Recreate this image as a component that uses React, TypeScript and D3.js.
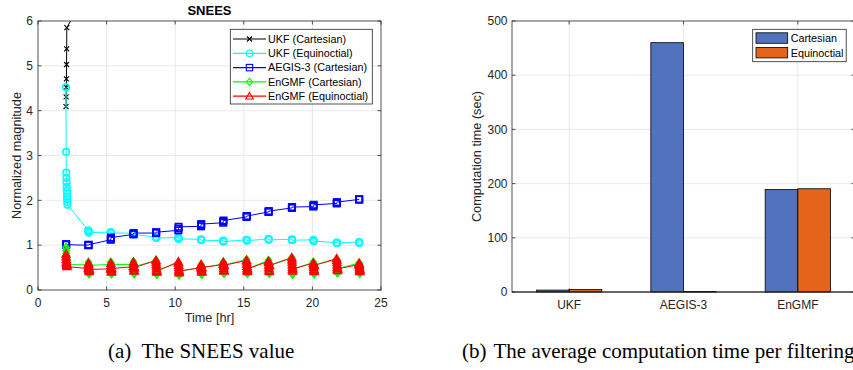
import React from "react";
import * as d3 from "d3";

// ---------- Data: SNEES (left) ----------
const PASS_TIMES = [2.04, 3.67, 5.3, 6.95, 8.6, 10.23, 11.88, 13.5, 15.2, 16.8, 18.5, 20.07, 21.77, 23.4];
const PASS_STEP = 0.01; // hr between samples inside one pass

const UKF_CART = [
  [4.09, 4.31, 4.52, 4.71, 5.03, 5.38, 5.85],
  [6.7, 7.4, 8.1],
  [10.5, 12.0],
];
const UKF_EQUI = [
  [4.52, 3.08, 2.62, 2.5, 2.4, 2.3, 2.22, 2.15, 2.08, 2.02, 1.96, 1.9],
  [1.33, 1.31, 1.29, 1.28],
  [1.29, 1.28, 1.27],
  [1.27, 1.25, 1.24],
  [1.18, 1.17, 1.16],
  [1.17, 1.15, 1.14],
  [1.13, 1.12, 1.11],
  [1.1, 1.09, 1.08],
  [1.12, 1.11, 1.1],
  [1.14, 1.13, 1.12],
  [1.13, 1.12, 1.11],
  [1.12, 1.1, 1.09],
  [1.06, 1.05, 1.05],
  [1.07, 1.06, 1.05],
];
const AEGIS_CART = [
  [1.02, 1.02, 1.01],
  [1.0, 1.0, 1.01],
  [1.12, 1.14, 1.17],
  [1.24, 1.25, 1.27],
  [1.27, 1.28, 1.29],
  [1.33, 1.37, 1.41],
  [1.42, 1.45, 1.47],
  [1.5, 1.53, 1.55],
  [1.63, 1.64, 1.65],
  [1.74, 1.75, 1.76],
  [1.83, 1.84, 1.85],
  [1.86, 1.88, 1.9],
  [1.93, 1.95, 1.96],
  [2.02, 2.02, 2.02],
];
const ENGMF_CART = [
  [0.95, 0.88, 0.82, 0.76, 0.7, 0.65, 0.6, 0.57],
  [0.56, 0.62, 0.55, 0.49, 0.44, 0.39, 0.36, 0.55],
  [0.57, 0.62, 0.55, 0.49, 0.44, 0.39, 0.36, 0.57],
  [0.57, 0.63, 0.56, 0.5, 0.44, 0.39, 0.36, 0.52],
  [0.66, 0.62, 0.56, 0.5, 0.44, 0.39, 0.35, 0.44],
  [0.6, 0.57, 0.51, 0.45, 0.4, 0.36, 0.33, 0.42],
  [0.5, 0.56, 0.51, 0.46, 0.41, 0.37, 0.35, 0.5],
  [0.58, 0.62, 0.56, 0.5, 0.45, 0.4, 0.37, 0.56],
  [0.68, 0.64, 0.58, 0.52, 0.46, 0.41, 0.37, 0.48],
  [0.66, 0.62, 0.56, 0.5, 0.45, 0.4, 0.37, 0.54],
  [0.72, 0.67, 0.6, 0.53, 0.46, 0.4, 0.35, 0.46],
  [0.62, 0.6, 0.54, 0.48, 0.43, 0.39, 0.36, 0.56],
  [0.68, 0.65, 0.59, 0.52, 0.46, 0.41, 0.38, 0.48],
  [0.6, 0.58, 0.53, 0.48, 0.43, 0.39, 0.37, 0.44],
];
const ENGMF_EQUI = [
  [0.8, 0.74, 0.68, 0.63, 0.6, 0.57, 0.55, 0.52],
  [0.48, 0.6, 0.56, 0.52, 0.48, 0.44, 0.41, 0.46],
  [0.47, 0.6, 0.55, 0.5, 0.46, 0.42, 0.4, 0.48],
  [0.52, 0.62, 0.57, 0.52, 0.48, 0.44, 0.42, 0.5],
  [0.66, 0.62, 0.57, 0.52, 0.47, 0.43, 0.4, 0.42],
  [0.63, 0.6, 0.55, 0.5, 0.45, 0.41, 0.38, 0.42],
  [0.5, 0.57, 0.53, 0.49, 0.45, 0.42, 0.4, 0.5],
  [0.57, 0.62, 0.57, 0.52, 0.48, 0.44, 0.42, 0.55],
  [0.66, 0.63, 0.58, 0.53, 0.48, 0.44, 0.41, 0.47],
  [0.64, 0.61, 0.56, 0.51, 0.47, 0.43, 0.41, 0.55],
  [0.72, 0.67, 0.62, 0.56, 0.51, 0.46, 0.42, 0.47],
  [0.6, 0.58, 0.54, 0.5, 0.46, 0.43, 0.41, 0.55],
  [0.7, 0.66, 0.61, 0.56, 0.51, 0.47, 0.43, 0.47],
  [0.57, 0.6, 0.55, 0.51, 0.47, 0.43, 0.41, 0.45],
];

const SERIES = [
  { name: "UKF (Cartesian)", data: UKF_CART, color: "#000000", marker: "x" },
  { name: "UKF (Equinoctial)", data: UKF_EQUI, color: "#00FFFF", marker: "o" },
  { name: "AEGIS-3 (Cartesian)", data: AEGIS_CART, color: "#0000FF", marker: "s" },
  { name: "EnGMF (Cartesian)", data: ENGMF_CART, color: "#00FF00", marker: "d" },
  { name: "EnGMF (Equinoctial)", data: ENGMF_EQUI, color: "#FF0000", marker: "t" },
];

const X_TICKS_L = [0, 5, 10, 15, 20, 25];
const Y_TICKS_L = [0, 1, 2, 3, 4, 5, 6];

// ---------- Data: computation time (right) ----------
const FILTERS = ["UKF", "AEGIS-3", "EnGMF"];
const TIME_CART = [3.5, 460, 189];
const TIME_EQUI = [4.5, 1, 190.5];
const BAR_SERIES = ["Cartesian", "Equinoctial"];
const BAR_COLORS = ["#5172BC", "#E3641A"];
const Y_TICKS_R = [0, 100, 200, 300, 400, 500];

const AX = "#262626";
const GRID = "#e3e3e3";
const SANS = "'Liberation Sans', Arial, Helvetica, sans-serif";
const SERIF = "'Liberation Serif', 'Times New Roman', serif";

function Marker({ type, x, y, color, sw = 1.6 }: { type: string; x: number; y: number; color: string; sw?: number }) {
  if (type === "x") {
    const h = 2.5;
    return (
      <path d={`M${x - h},${y - h}L${x + h},${y + h}M${x - h},${y + h}L${x + h},${y - h}`} stroke={color} strokeWidth={1.1} fill="none" />
    );
  }
  if (type === "o") return <circle cx={x} cy={y} r={3.3} stroke={color} strokeWidth={sw} fill="none" />;
  if (type === "s") return <rect x={x - 3.2} y={y - 3.2} width={6.4} height={6.4} stroke={color} strokeWidth={sw} fill="none" />;
  if (type === "d") {
    const h = 3.8;
    return <path d={`M${x},${y - h}L${x + h * 0.8},${y}L${x},${y + h}L${x - h * 0.8},${y}Z`} stroke={color} strokeWidth={sw} fill="none" />;
  }
  const h = 3.8;
  return <path d={`M${x},${y - h}L${x + h},${y + h * 0.75}L${x - h},${y + h * 0.75}Z`} stroke={color} strokeWidth={sw} fill="none" />;
}

function LeftChart() {
  const L = 38, R = 381, T = 21, B = 290;
  const x = d3.scaleLinear().domain([0, 25]).range([L, R]);
  const y = d3.scaleLinear().domain([0, 6]).range([B, T]);
  const line = d3.line<{ t: number; v: number }>().x((d) => x(d.t)).y((d) => y(d.v));
  const pts = (data: number[][]) =>
    data.flatMap((pass, p) => pass.map((v, i) => ({ t: PASS_TIMES[p] + i * PASS_STEP, v })));
  const legY = [39, 53.3, 67.6, 81.9, 96.2];
  return (
    <g>
      <defs>
        <clipPath id="clipL">
          <rect x={L} y={T} width={R - L} height={B - T} />
        </clipPath>
      </defs>
      <rect x={L} y={T} width={R - L} height={B - T} fill="#fff" />
      {X_TICKS_L.slice(1, -1).map((t) => (
        <line key={"gx" + t} x1={x(t)} x2={x(t)} y1={T} y2={B} stroke={GRID} strokeWidth={0.8} />
      ))}
      {Y_TICKS_L.slice(1, -1).map((t) => (
        <line key={"gy" + t} x1={L} x2={R} y1={y(t)} y2={y(t)} stroke={GRID} strokeWidth={0.8} />
      ))}
      <g clipPath="url(#clipL)">
        {SERIES.map((s) => {
          const p = pts(s.data);
          return (
            <g key={s.name}>
              <path d={line(p) || ""} stroke={s.color} strokeWidth={1} fill="none" />
              {p.map((d, i) => (
                <Marker key={i} type={s.marker} x={x(d.t)} y={y(d.v)} color={s.color} />
              ))}
            </g>
          );
        })}
      </g>
      <rect x={L} y={T} width={R - L} height={B - T} fill="none" stroke={AX} strokeWidth={0.8} />
      {X_TICKS_L.map((t) => (
        <g key={"tx" + t}>
          <line x1={x(t)} x2={x(t)} y1={B} y2={B - 3.5} stroke={AX} strokeWidth={0.8} />
          <line x1={x(t)} x2={x(t)} y1={T} y2={T + 3.5} stroke={AX} strokeWidth={0.8} />
          <text x={x(t)} y={307} textAnchor="middle" fontSize={12} fill={AX} fontFamily={SANS}>
            {t}
          </text>
        </g>
      ))}
      {Y_TICKS_L.map((t) => (
        <g key={"ty" + t}>
          <line x1={L} x2={L + 3.5} y1={y(t)} y2={y(t)} stroke={AX} strokeWidth={0.8} />
          <line x1={R} x2={R - 3.5} y1={y(t)} y2={y(t)} stroke={AX} strokeWidth={0.8} />
          <text x={33} y={y(t) + 4.2} textAnchor="end" fontSize={12} fill={AX} fontFamily={SANS}>
            {t}
          </text>
        </g>
      ))}
      <text x={(L + R) / 2} y={15} textAnchor="middle" fontSize={13} fontWeight="bold" fill="#000" fontFamily={SANS}>
        SNEES
      </text>
      <text x={(L + R) / 2} y={322} textAnchor="middle" fontSize={12.7} fill={AX} fontFamily={SANS}>
        Time [hr]
      </text>
      <text transform={`translate(21,${(T + B) / 2}) rotate(-90)`} textAnchor="middle" fontSize={12.7} fill={AX} fontFamily={SANS}>
        Normalized magnitude
      </text>
      <rect x={230.3} y={29.3} width={142} height={74.7} fill="#fff" stroke={AX} strokeWidth={0.8} />
      {SERIES.map((s, i) => (
        <g key={"lg" + i}>
          <line x1={233} x2={266} y1={legY[i]} y2={legY[i]} stroke={s.color} strokeWidth={1.2} />
          <Marker type={s.marker} x={249.5} y={legY[i]} color={s.color} sw={1.1} />
          <text x={268} y={legY[i] + 3.8} fontSize={10.8} fill="#000" fontFamily={SANS}>
            {s.name}
          </text>
        </g>
      ))}
    </g>
  );
}

function RightChart() {
  const L = 512, R = 855, T = 21, B = 292;
  const x = d3.scaleLinear().domain([0.5, 3.5]).range([L, R]);
  const y = d3.scaleLinear().domain([0, 500]).range([B, T]);
  const bw = 2 / 3.5 / 2; // MATLAB grouped bar width per series
  const vals = [TIME_CART, TIME_EQUI];
  return (
    <g>
      <rect x={L} y={T} width={R - L} height={B - T} fill="#fff" />
      {FILTERS.map((f, i) => (
        <line key={"gx" + f} x1={x(i + 1)} x2={x(i + 1)} y1={T} y2={B} stroke={GRID} strokeWidth={0.8} />
      ))}
      {Y_TICKS_R.slice(1, -1).map((t) => (
        <line key={"gy" + t} x1={L} x2={R} y1={y(t)} y2={y(t)} stroke={GRID} strokeWidth={0.8} />
      ))}
      {vals.map((arr, s) =>
        arr.map((v, i) => {
          const x0 = x(i + 1 + (s - 1) * bw);
          const x1 = x(i + 1 + s * bw);
          return (
            <rect
              key={s + "-" + i}
              x={x0}
              y={y(v)}
              width={x1 - x0}
              height={y(0) - y(v)}
              fill={BAR_COLORS[s]}
              stroke="#000"
              strokeWidth={0.8}
            />
          );
        })
      )}
      <rect x={L} y={T} width={R - L} height={B - T} fill="none" stroke={AX} strokeWidth={0.8} />
      <line x1={L} x2={R} y1={B} y2={B} stroke={AX} strokeWidth={1.2} />
      {FILTERS.map((f, i) => (
        <g key={"tx" + f}>
          <line x1={x(i + 1)} x2={x(i + 1)} y1={B} y2={B - 3.5} stroke={AX} strokeWidth={0.8} />
          <line x1={x(i + 1)} x2={x(i + 1)} y1={T} y2={T + 3.5} stroke={AX} strokeWidth={0.8} />
          <text x={x(i + 1)} y={309} textAnchor="middle" fontSize={12} fill={AX} fontFamily={SANS}>
            {f}
          </text>
        </g>
      ))}
      {Y_TICKS_R.map((t) => (
        <g key={"ty" + t}>
          <line x1={L} x2={L + 3.5} y1={y(t)} y2={y(t)} stroke={AX} strokeWidth={0.8} />
          <line x1={R} x2={R - 3.5} y1={y(t)} y2={y(t)} stroke={AX} strokeWidth={0.8} />
          <text x={507.5} y={y(t) + 4.2} textAnchor="end" fontSize={12} fill={AX} fontFamily={SANS}>
            {t}
          </text>
        </g>
      ))}
      <text transform={`translate(481,${(T + B) / 2}) rotate(-90)`} textAnchor="middle" fontSize={12.7} fill={AX} fontFamily={SANS}>
        Computation time (sec)
      </text>
      <rect x={752.7} y={29.3} width={93.5} height={32.4} fill="#fff" stroke={AX} strokeWidth={0.8} />
      {BAR_SERIES.map((n, i) => (
        <g key={"lg" + n}>
          <rect x={756} y={[32.8, 47.4][i]} width={31.7} height={10.5} fill={BAR_COLORS[i]} stroke="#000" strokeWidth={0.8} />
          <text x={790.7} y={[42.3, 56.6][i]} fontSize={10.8} fill="#000" fontFamily={SANS}>
            {n}
          </text>
        </g>
      ))}
    </g>
  );
}

export default function App() {
  return (
    <svg
      width={853}
      height={370}
      style={{ position: "absolute", left: 0, top: 0, background: "#fff" }}
      xmlns="http://www.w3.org/2000/svg"
    >
      <rect x={0} y={0} width={853} height={370} fill="#fff" />
      <LeftChart />
      <RightChart />
      <text x={108} y={358} fontSize={21} fill="#000" fontFamily={SERIF}>
        (a)
      </text>
      <text x={141.5} y={358} fontSize={21} fill="#000" fontFamily={SERIF}>
        The SNEES value
      </text>
      <text x={462} y={358} fontSize={21} fill="#000" fontFamily={SERIF}>
        (b)
      </text>
      <text x={493.5} y={358} fontSize={21} fill="#000" fontFamily={SERIF}>
        The average computation time per filtering
      </text>
    </svg>
  );
}
